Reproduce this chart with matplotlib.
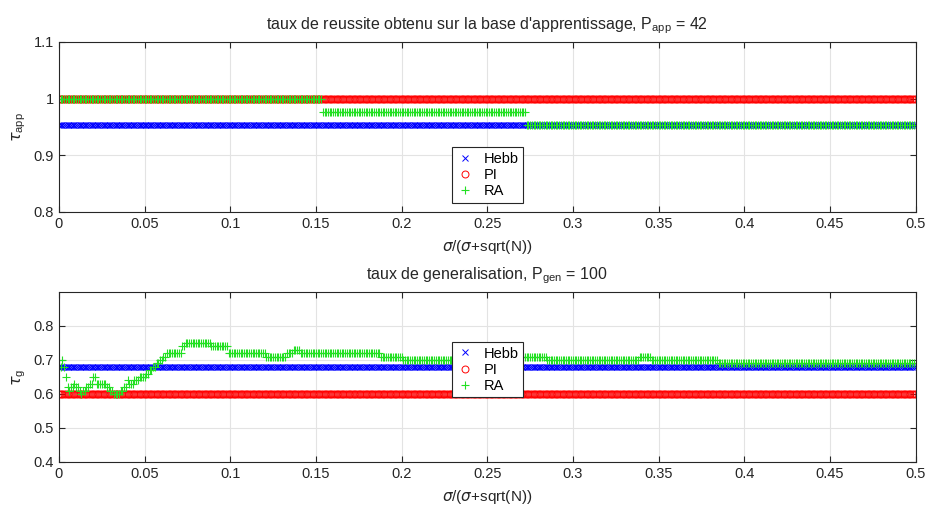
import numpy as np
import matplotlib
matplotlib.use('Agg')
import matplotlib.pyplot as plt
from matplotlib.ticker import FuncFormatter

#=====================data===============
n_pts = 501
x_min, x_max = 0.0, 0.5

# learning base (P_app = 42)
hebb_app = 40/42.
pi_app = 1.0
# RA steps : value holds until x_end
ra_app_xend = [0.153, 0.272, 0.5]
ra_app_val = [1.0, 41/42., 40/42.]

# generalisation (P_gen = 100)
hebb_gen = 0.68
pi_gen = 0.60
ra_gen_xend = [0.001, 0.002, 0.003, 0.004, 0.005, 0.006, 0.008, 0.009, 0.011, 0.012,
               0.013, 0.015, 0.017, 0.019, 0.021, 0.022, 0.027, 0.029, 0.031, 0.035,
               0.037, 0.039, 0.040, 0.043, 0.046, 0.050, 0.052, 0.054, 0.056, 0.058,
               0.060, 0.062, 0.071, 0.073, 0.088, 0.098, 0.120, 0.132, 0.136, 0.140,
               0.187, 0.200, 0.231, 0.242, 0.261, 0.284, 0.338, 0.345, 0.384, 0.5]
ra_gen_val = [0.68, 0.70, 0.68, 0.65, 0.62, 0.61, 0.62, 0.63, 0.62, 0.61,
              0.60, 0.61, 0.62, 0.63, 0.65, 0.63, 0.63, 0.62, 0.61, 0.60,
              0.61, 0.62, 0.64, 0.63, 0.64, 0.65, 0.66, 0.67, 0.68, 0.69,
              0.70, 0.71, 0.72, 0.74, 0.75, 0.74, 0.72, 0.71, 0.72, 0.73,
              0.72, 0.71, 0.70, 0.71, 0.72, 0.71, 0.70, 0.71, 0.70, 0.69]

#==============build the series===================
x = np.linspace(x_min, x_max, n_pts)

def steps(xend, val):
    idx = np.searchsorted(np.array(xend), x - 1e-9)
    idx = np.clip(idx, 0, len(val) - 1)
    return np.array(val)[idx]

ra_app = steps(ra_app_xend, ra_app_val)
ra_gen = steps(ra_gen_xend, ra_gen_val)

#=================================Plot======================================
plt.rcParams['font.family'] = ['Liberation Sans', 'DejaVu Sans']
plt.rcParams['mathtext.fontset'] = 'custom'
plt.rcParams['mathtext.rm'] = 'Liberation Sans'
plt.rcParams['mathtext.it'] = 'DejaVu Sans:italic'

dark = '#262626'
green = '#22e022'
fig = plt.figure(figsize=(9.29, 5.08), dpi=100)
ax1 = fig.add_axes([0.0635, 0.583, 0.922, 0.3346])
ax2 = fig.add_axes([0.0635, 0.0906, 0.922, 0.3346])

fmt = FuncFormatter(lambda v, p: '%g' % round(v, 3))

def style(ax):
    ax.grid(True, color='#e3e3e3', linewidth=0.8)
    ax.set_axisbelow(True)
    ax.tick_params(direction='in', top=True, right=True, length=4, labelsize=10.5,
                   colors=dark, width=0.8)
    for s in ax.spines.values():
        s.set_color(dark)
        s.set_linewidth(0.8)
    ax.set_xlim(x_min, x_max)
    ax.set_xticks(np.arange(0, 0.51, 0.05))
    ax.xaxis.set_major_formatter(fmt)
    ax.yaxis.set_major_formatter(fmt)
    ax.set_xlabel(r'$\sigma$/($\sigma$+sqrt(N))', fontsize=11, color=dark, labelpad=5)

def draw(ax, hebb, pi, ra):
    ax.plot(x, np.full(n_pts, hebb), 'x', color='b', markersize=4.5, markeredgewidth=0.7,
            linestyle='none', label='Hebb')
    ax.plot(x, np.full(n_pts, pi), 'o', color='r', markerfacecolor='none', markersize=5,
            markeredgewidth=0.7, linestyle='none', label='PI')
    ax.plot(x, ra, '+', color=green, markersize=6, markeredgewidth=0.8,
            linestyle='none', label='RA')

draw(ax1, hebb_app, pi_app, ra_app)
style(ax1)
ax1.set_ylim(0.8, 1.1)
ax1.set_yticks([0.8, 0.9, 1.0, 1.1])
ax1.set_ylabel(r'$\tau_{\rm app}$', fontsize=11.5, color=dark)
ax1.set_title(r"taux de reussite obtenu sur la base d'apprentissage, P$_{\rm app}$ = 42",
              fontsize=11.5, color=dark, pad=9)

draw(ax2, hebb_gen, pi_gen, ra_gen)
style(ax2)
ax2.set_ylim(0.4, 0.9)
ax2.set_yticks([0.4, 0.5, 0.6, 0.7, 0.8])
ax2.set_ylabel(r'$\tau_{\rm g}$', fontsize=11.5, color=dark)
ax2.set_title(r'taux de generalisation, P$_{\rm gen}$ = 100', fontsize=11.5, color=dark, pad=9)

for ax, top in [(ax1, 0.379), (ax2, 0.705)]:
    leg = ax.legend(loc='upper left', bbox_to_anchor=(0.4586, top), numpoints=1,
                    fontsize=10.5, frameon=True, fancybox=False, handlelength=1.2,
                    handletextpad=0.7, labelspacing=0.15, borderpad=0.3, borderaxespad=0)
    leg.get_frame().set_edgecolor(dark)
    leg.get_frame().set_linewidth(0.8)
    leg.get_frame().set_alpha(1)

plt.savefig('out.png', dpi=100)
